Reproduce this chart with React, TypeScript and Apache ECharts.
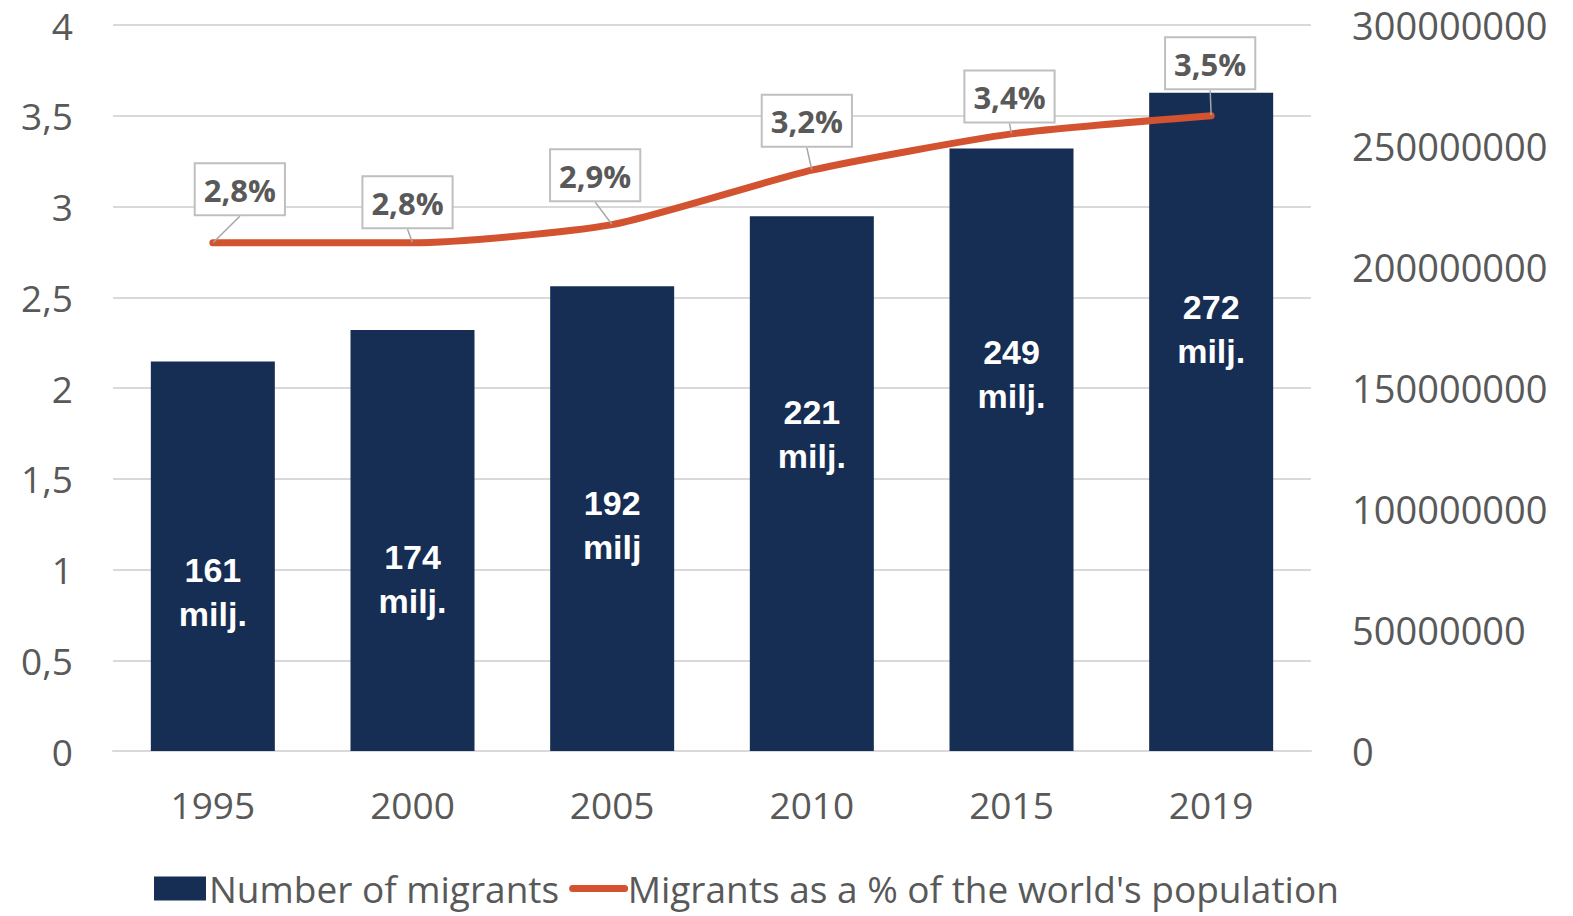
import React, { useEffect, useRef } from "react";
import * as echarts from "echarts";

const years = ["1995", "2000", "2005", "2010", "2015", "2019"];
const migrants = [161000000, 174000000, 192000000, 221000000, 249000000, 272000000];
const migrantLabels = ["161\nmilj.", "174\nmilj.", "192\nmilj", "221\nmilj.", "249\nmilj.", "272\nmilj."];
const sharePct = [2.8, 2.8, 2.9, 3.2, 3.4, 3.5];

const barLabelDy = [36, 39, 6, -50, -76, -93];
const lineLabelDx = [27, -5, -17, -5, -2, -1];
const lineLabelDy = [-23, -10, -19, -19, -7, -22];

const FONT = "'Open Sans', 'Noto Sans', sans-serif";
const GRAY = "#595959";

export default function App() {
  const ref = useRef<HTMLDivElement>(null);
  useEffect(() => {
    document.body.style.margin = "0";
    if (!ref.current) return;
    const chart = echarts.init(ref.current, undefined, { renderer: "svg" });
    chart.setOption({
      animation: false,
      backgroundColor: "#ffffff",
      grid: { left: 113, right: 262, top: 25, bottom: 165, containLabel: false },
      legend: {
        left: 149,
        bottom: 4,
        itemWidth: 52,
        itemHeight: 24,
        itemGap: 10,
        textStyle: { fontFamily: FONT, fontSize: 37, color: GRAY, padding: [0, 0, 0, -2] },
        data: [
          { name: "Number of migrants", icon: "rect" },
          {
            name: "Migrants as a % of the world's population",
            itemStyle: { opacity: 0 },
            lineStyle: { width: 7, color: "#d35230", cap: "round" },
          },
        ],
      },
      xAxis: {
        type: "category",
        data: years,
        axisLine: { show: true, lineStyle: { color: "#d9d9d9", width: 2 } },
        axisTick: { show: false },
        axisLabel: { fontFamily: FONT, fontSize: 37, color: GRAY, margin: 35 },
      },
      yAxis: [
        {
          type: "value",
          min: 0,
          max: 4,
          interval: 0.5,
          position: "left",
          axisLine: { show: false },
          axisTick: { show: false },
          splitLine: { lineStyle: { color: "#d9d9d9", width: 2 } },
          axisLabel: {
            fontFamily: FONT,
            fontSize: 37,
            color: GRAY,
            margin: 40,
            formatter: (v: number) => String(v).replace(".", ","),
          },
        },
        {
          type: "value",
          min: 0,
          max: 300000000,
          interval: 50000000,
          position: "right",
          axisLine: { show: false },
          axisTick: { show: false },
          splitLine: { show: false },
          axisLabel: {
            fontFamily: FONT,
            fontSize: 38,
            color: GRAY,
            margin: 41,
            formatter: (v: number) => String(v),
          },
        },
      ],
      series: [
        {
          name: "Number of migrants",
          type: "bar",
          yAxisIndex: 1,
          barWidth: 124,
          itemStyle: { color: "#162d54" },
          data: migrants.map((v, i) => ({
            value: v,
            label: {
              show: true,
              position: "inside",
              offset: [0, barLabelDy[i]],
              formatter: migrantLabels[i],
              color: "#ffffff",
              fontFamily: "'Liberation Sans', Arial, sans-serif",
              fontWeight: "bold",
              fontSize: 34,
              lineHeight: 44,
            },
          })),
        },
        {
          name: "Migrants as a % of the world's population",
          type: "line",
          yAxisIndex: 0,
          symbol: "circle",
          showSymbol: true,
          symbolSize: 1,
          smooth: 0.2,
          lineStyle: { color: "#d35230", width: 7, cap: "round" },
          itemStyle: { color: "rgba(0,0,0,0)", borderWidth: 0 },
          data: sharePct,
          label: {
            show: true,
            position: "top",
            distance: 5,
            formatter: (p: any) => p.value.toFixed(1).replace(".", ",") + "%",
            fontFamily: FONT,
            fontWeight: "bold",
            fontSize: 31,
            color: GRAY,
            backgroundColor: "#ffffff",
            borderColor: "#bfbfbf",
            borderWidth: 2,
            padding: [10, 8, 9, 8],
          },
          labelLine: {
            show: true,
            lineStyle: { color: "#a6a6a6", width: 1.5 },
          },
          labelLayout: (params: any) => ({
            dx: lineLabelDx[params.dataIndex],
            dy: lineLabelDy[params.dataIndex],
          }),
        },
      ],
    });
    return () => chart.dispose();
  }, []);
  return <div ref={ref} style={{ width: 1573, height: 916 }} />;
}
